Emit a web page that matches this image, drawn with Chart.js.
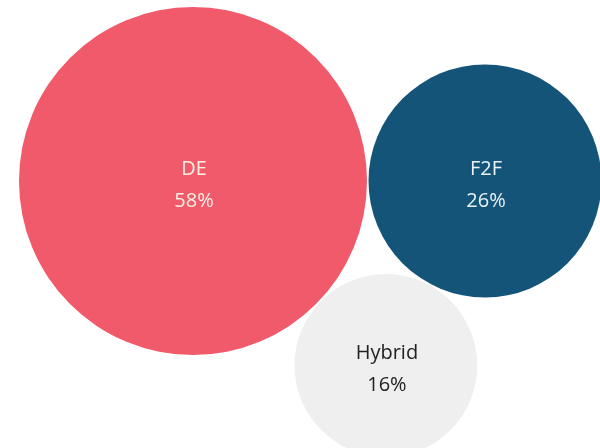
<!DOCTYPE html>
<html>
<head>
<meta charset="utf-8">
<script src="https://cdn.jsdelivr.net/npm/chart.js@4"></script>
<style>
  html, body { margin: 0; padding: 0; background: #ffffff; }
  #wrap { width: 600px; height: 448px; }
</style>
</head>
<body>
<div id="wrap"><canvas id="c" width="600" height="448"></canvas></div>
<script>
// ---- data ----
const categories = ['DE', 'F2F', 'Hybrid'];
const shares = [58, 26, 16];               // percent
const fillColors = ['#F05A6B', '#145479', '#EFEFEF'];
const textColors = ['#FBF1E3', '#EAF2F6', '#222222'];

// ---- packed layout (computed from values) ----
const W = 600, H = 448;
const sizeK = 174 / Math.sqrt(58);         // px per sqrt(unit)
const gap = 1.5;
const radii = shares.map(v => sizeK * Math.sqrt(v));
const rA = radii[0], rB = radii[1], rC = radii[2];
const A = { x: 19 + rA, y: 181 };
const B = { x: A.x + rA + rB + gap, y: A.y };
const dAB = B.x - A.x;
const dAC = rA + rC + gap, dBC = rB + rC + gap;
const cx = (dAB * dAB + dAC * dAC - dBC * dBC) / (2 * dAB);
const cy = Math.sqrt(Math.max(0, dAC * dAC - cx * cx));
const C = { x: A.x + cx, y: A.y + cy };
const centers = [A, B, C];

const points = categories.map((c, i) => ({ x: centers[i].x, y: centers[i].y, r: radii[i] }));

const labelPlugin = {
  id: 'bubbleLabels',
  afterDatasetsDraw(chart) {
    const ctx = chart.ctx;
    const meta = chart.getDatasetMeta(0);
    ctx.save();
    ctx.textAlign = 'center';
    ctx.textBaseline = 'alphabetic';
    ctx.font = '400 20px "Open Sans", "Noto Sans", sans-serif';
    meta.data.forEach((el, i) => {
      ctx.fillStyle = textColors[i];
      ctx.fillText(categories[i], el.x + 1, el.y - 6);
      ctx.fillText(shares[i] + '%', el.x + 1, el.y + 26);
    });
    ctx.restore();
  }
};

const chart = new Chart(document.getElementById('c'), {
  type: 'bubble',
  data: {
    datasets: [{
      data: points,
      backgroundColor: fillColors,
      borderWidth: 0,
      hoverRadius: 0,
      clip: false
    }]
  },
  options: {
    responsive: false,
    animation: false,
    events: [],
    layout: { padding: 0, autoPadding: false },
    plugins: { legend: { display: false }, tooltip: { enabled: false } },
    scales: {
      x: { type: 'linear', min: 0, max: W, display: false },
      y: { type: 'linear', min: 0, max: H, reverse: true, display: false }
    }
  },
  plugins: [labelPlugin]
});

// Align the scale range with the chart area so data units equal canvas pixels.
const ca = chart.chartArea;
if (ca.left !== 0 || ca.top !== 0 || ca.right !== W || ca.bottom !== H) {
  chart.options.scales.x.min = ca.left;
  chart.options.scales.x.max = ca.right;
  chart.options.scales.y.min = ca.top;
  chart.options.scales.y.max = ca.bottom;
  chart.update();
}
</script>
</body>
</html>
